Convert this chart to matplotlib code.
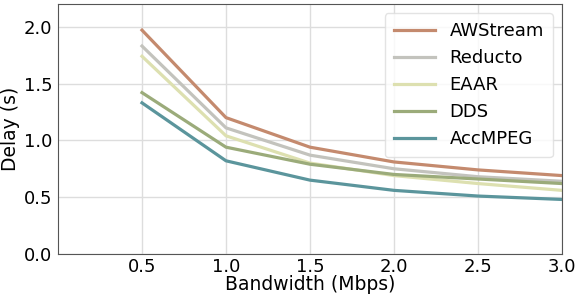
import matplotlib
matplotlib.use("Agg")
import matplotlib.pyplot as plt

bandwidth = [0.5, 1.0, 1.5, 2.0, 2.5, 3.0]
awstream = [1.97, 1.20, 0.94, 0.81, 0.74, 0.69]
reducto = [1.83, 1.11, 0.87, 0.75, 0.68, 0.64]
eaar = [1.74, 1.04, 0.80, 0.69, 0.62, 0.56]
dds = [1.42, 0.94, 0.79, 0.70, 0.66, 0.62]
accmpeg = [1.33, 0.82, 0.65, 0.56, 0.51, 0.48]

series = [
    ("AWStream", awstream, "#c48a6e"),
    ("Reducto", reducto, "#c3c3bd"),
    ("EAAR", eaar, "#dde0b0"),
    ("DDS", dds, "#9bab7a"),
    ("AccMPEG", accmpeg, "#5b959c"),
]

fig = plt.figure(figsize=(5.81, 3.01), dpi=100)
ax = fig.add_axes([58 / 581, 47 / 301, 504 / 581, 250 / 301])

for name, vals, color in series:
    ax.plot(bandwidth, vals, color=color, lw=2.3, label=name)

ax.set_xlim(0, 3.0)
ax.set_ylim(0, 2.2)
ax.set_xticks(bandwidth)
ax.set_yticks([0.0, 0.5, 1.0, 1.5, 2.0])
ax.tick_params(labelsize=13, length=0)
ax.tick_params(axis="y", pad=4)
ax.tick_params(axis="x", pad=3)
ax.grid(True, color="#dddddd", lw=1)
ax.set_axisbelow(True)
for sp in ax.spines.values():
    sp.set_color("#555555")
ax.set_xlabel("Bandwidth (Mbps)", fontsize=13.5, labelpad=-1)
ax.set_ylabel("Delay (s)", fontsize=13.5, labelpad=3)
ax.legend(loc="upper right", fontsize=13, handlelength=2.3, framealpha=0.8,
          edgecolor="#dddddd", labelspacing=0.5, borderpad=0.5)

fig.savefig("out.png", dpi=100)
